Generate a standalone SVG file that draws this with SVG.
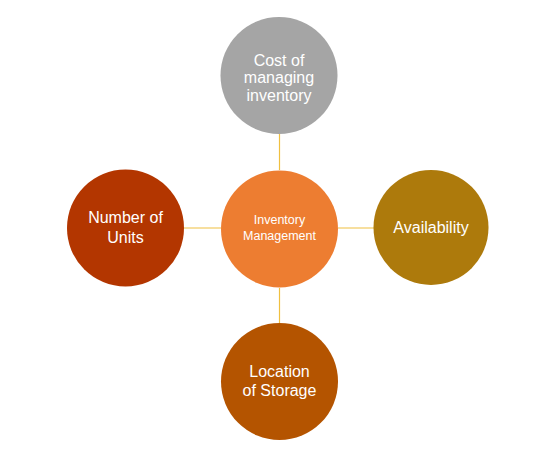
<svg xmlns="http://www.w3.org/2000/svg" width="540" height="453" viewBox="0 0 540 453">
<style>
.t{font-family:"Liberation Sans",Arial,sans-serif;fill:#fff;text-anchor:middle}
.b{font-size:16px}
.s{font-size:12.5px}
.c{stroke:#F0C040;stroke-width:1.2;fill:none}
</style>
<rect width="540" height="453" fill="#fff"/>
<g id="connectors">
<line class="c" x1="279.5" y1="134" x2="279.5" y2="170"/>
<line class="c" x1="279.5" y1="288" x2="279.5" y2="323"/>
<line class="c" x1="184" y1="228" x2="221" y2="228"/>
<line class="c" x1="338" y1="228" x2="374" y2="228"/>
</g>
<g id="center">
<circle cx="279.5" cy="229" r="58.5" fill="#ED7D31"/>
<text class="t s" x="279.5" y="224">Inventory</text>
<text class="t s" x="279.5" y="240">Management</text>
</g>
<g id="top">
<circle cx="279" cy="75.5" r="58.5" fill="#A5A5A5"/>
<text class="t b" x="279" y="66">Cost of</text>
<text class="t b" x="279" y="83">managing</text>
<text class="t b" x="279" y="101">inventory</text>
</g>
<g id="left">
<circle cx="125.5" cy="228" r="58.5" fill="#B33600"/>
<text class="t b" x="125.5" y="223">Number of</text>
<text class="t b" x="125.5" y="243">Units</text>
</g>
<g id="right">
<circle cx="431" cy="227.5" r="57.5" fill="#AD7A0C"/>
<text class="t b" x="431" y="233">Availability</text>
</g>
<g id="bottom">
<circle cx="279.5" cy="381.5" r="58.5" fill="#B45400"/>
<text class="t b" x="279.5" y="377">Location</text>
<text class="t b" x="279.5" y="396">of Storage</text>
</g>
</svg>
